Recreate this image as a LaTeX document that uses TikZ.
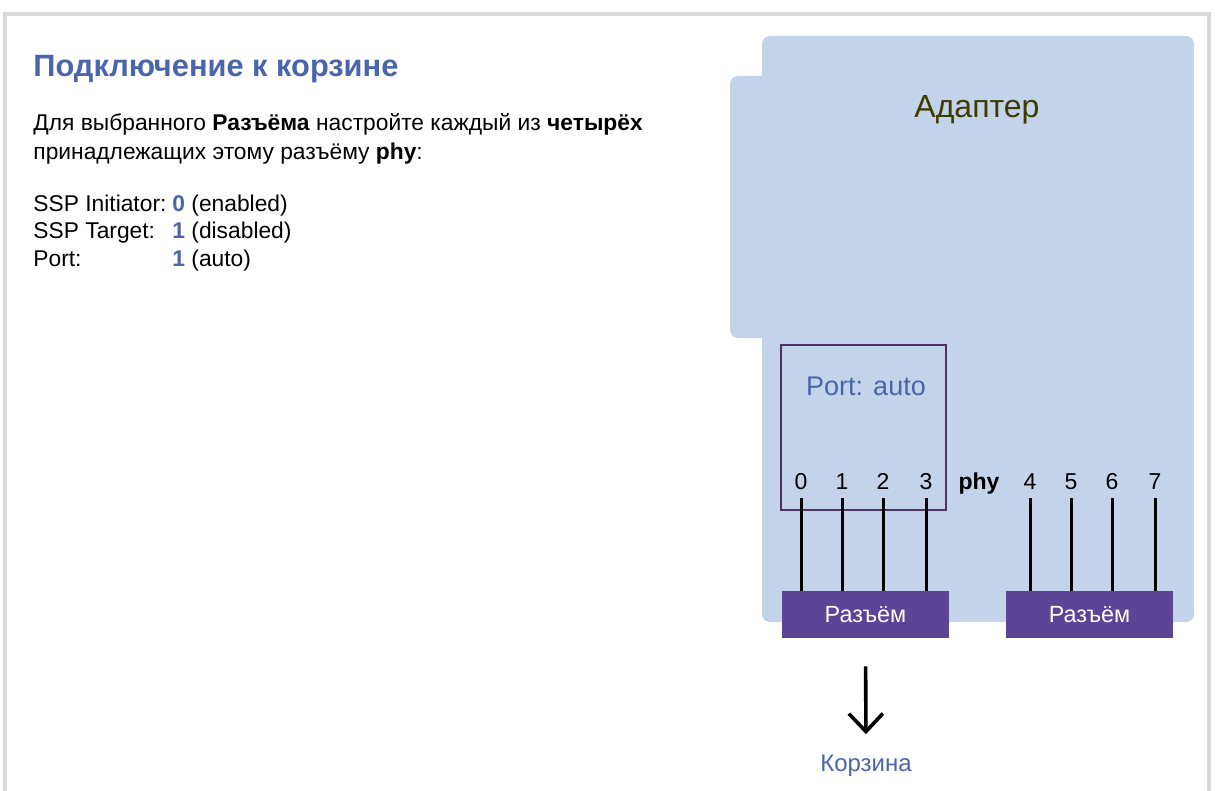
\documentclass[tikz,border=0pt]{standalone}
\usepackage{fontspec}
\setmainfont{Liberation Sans}
\usepackage{tikz}
\usetikzlibrary{arrows.meta}

\definecolor{titleblue}{HTML}{4A65AC}
\definecolor{adapterfill}{HTML}{C3D3EA}
\definecolor{slotpurple}{HTML}{5A4596}
\definecolor{portframe}{HTML}{4E3360}
\definecolor{olive}{HTML}{3F3A00}

\begin{document}
\begin{tikzpicture}[x=0.5pt,y=-0.5pt]
	\useasboundingbox (0,0) rectangle (1215,791);
	\fill[white] (0,0) rectangle (1215,791);
	\draw[black!15, line width=2pt] (5,791) -- (5,14) -- (1209,14) -- (1209,791);

		\begin{scope}
            [
                every node/.style={
					anchor = base west, inner sep = 0pt, font=\fontsize{11.4}{13}\selectfont }
            ]
			\node(t)[text=titleblue, font=\fontsize{15.4}{18}\selectfont\bfseries] at (33,77) {Подключение к корзине};

			\node(p) at (33,131) {Для выбранного \textbf{Разъёма} настройте каждый из \textbf{четырёх}};
			\node(q) at (33,160) {принадлежащих этому разъёму \textbf{phy}:};

			\node(r) at (33,212) {SSP Initiator:};
			\node(s) at (33,239) {SSP Target:};
			\node(u) at (33,267) {Port:};
			\node(rv) at (172,212) {\textcolor{titleblue}{\textbf{0}} (enabled)};
			\node(sv) at (172,239) {\textcolor{titleblue}{\textbf{1}} (disabled)};
			\node(uv) at (172,267) {\textcolor{titleblue}{\textbf{1}} (auto)};
		\end{scope}

	% adapter
	\fill[adapterfill, rounded corners=4pt] (762,36) rectangle (1194,622);
	\fill[adapterfill, rounded corners=4pt] (730,76) rectangle (770,338);
	\node(a)[text=olive, font=\fontsize{16}{19}\selectfont] at (977,110) {Адаптер};

	\draw[portframe, line width=0.6pt] (781,345) rectangle (946,510);
	\node(b)[text=titleblue, font=\fontsize{13.5}{16}\selectfont] at (866,386) {Port: auto};

		\begin{scope}
            [
                every node/.style={anchor=base, font=\fontsize{11.5}{13}\selectfont},
				slot/.style = {anchor=center, fill=slotpurple, text=white, minimum width=83.5pt, minimum height=23.5pt, inner sep=0pt, font=\fontsize{11.7}{14}\selectfont}
            ]
			\node(n0) at (801,489) {0};
			\node(n1) at (842,489) {1};
			\node(n2) at (883,489) {2};
			\node(n3) at (926,489) {3};
			\node(h) at (979,489) {\textbf{phy}};
			\node(n4) at (1030,489) {4};
			\node(n5) at (1071,489) {5};
			\node(n6) at (1112,489) {6};
			\node(n7) at (1155,489) {7};

			\node(c)[slot] at (865.5,614.5) {Разъём};
			\node(d)[slot] at (1089.5,614.5) {Разъём};

			\node(k)[anchor=center, text=titleblue, font=\fontsize{12}{14}\selectfont] at (866,766) {Корзина};
		\end{scope}

		\begin{scope}
            [line width=1.5pt, black]
			\foreach \i in {0,...,3}
				\draw (n\i.south) ++(0,2) -- (n\i.south |- c.north);
			\foreach \i in {4,...,7}
				\draw (n\i.south) ++(0,2) -- (n\i.south |- d.north);
            \draw[line width=1.8pt, -{Straight Barb[length=9pt, width=17pt]}, shorten <=14pt, shorten >=7pt] (c.south) -- (k.north);
		\end{scope}
    \end{tikzpicture}
\end{document}
